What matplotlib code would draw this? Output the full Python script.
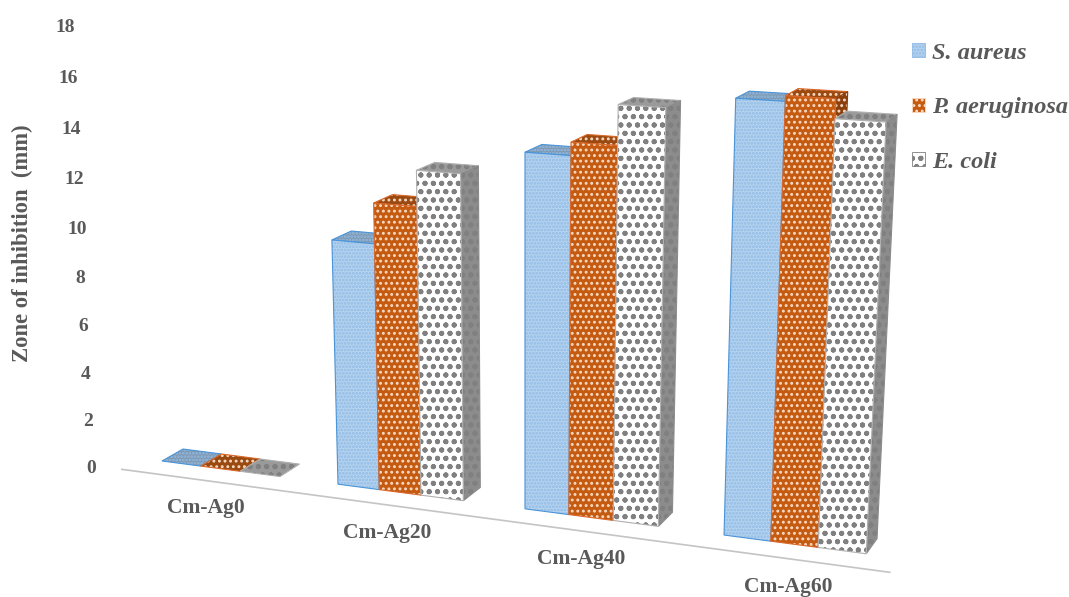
import matplotlib
matplotlib.use('Agg')
import matplotlib.pyplot as plt
from matplotlib.patches import Polygon, Patch

categories = ['Cm-Ag0', 'Cm-Ag20', 'Cm-Ag40', 'Cm-Ag60']
series_names = ['S. aureus', 'P. aeruginosa', 'E. coli']
s_aureus = [0, 10.0, 14.0, 16.5]
p_aeruginosa = [0, 11.6, 14.5, 16.7]
e_coli = [0, 13.0, 16.0, 16.0]
y_ticks = [0, 2, 4, 6, 8, 10, 12, 14, 16, 18]

GROUP_W = 0.677
CAM_Q = 0.00306


# perspective projection of (category pos, value, depth) to picture pixels
def project(t, v, d):
    w = 1 - 0.0294 * t - CAM_Q * v + 0.0164 * d
    x = (162 + 166.06 * t - 525 * CAM_Q * v + 24 * d) / w
    y = (461 + 8.95 * t - 24.44 * v - 4.6 * d) / w
    return x, y


def face(points, fill, hatch_col, hatch, edge, zorder):
    pts = [project(*p) for p in points]
    ax.add_patch(Polygon(pts, closed=True, facecolor=fill, edgecolor=hatch_col,
                         hatch=hatch, lw=0, zorder=zorder))
    ax.add_patch(Polygon(pts, closed=True, fill=False, edgecolor=edge, lw=0.8, zorder=zorder))


plt.rcParams['font.family'] = ['Liberation Serif', 'DejaVu Serif']
plt.rcParams['hatch.linewidth'] = 1.3

fig = plt.figure(figsize=(10.69, 5.97), dpi=100)
ax = fig.add_axes([0, 0, 1, 1])
ax.set_xlim(0, 1069)
ax.set_ylim(597, 0)
ax.axis('off')

styles = [
    # front, side, top, hatch colour, hatch, edge
    dict(front='#b5d2ee', side='#8fa9c4', top='#8199b0', hc='#8fbbe6', hatch='.....', edge='#4a94d8'),
    dict(front='#c55a11', side='#8a3f0c', top='#9a4a10', hc='#f8dcc6', hatch='...', edge='#d9682a'),
    dict(front='#ffffff', side='#8c8c8c', top='#9a9a9a', hc='#808080', hatch='oo..', edge='#b0b0b0'),
]
values = [s_aureus, p_aeruginosa, e_coli]

# floor line
x0, y0 = project(-0.12, 0, -0.9)
x1, y1 = project(3.83, 0, -0.9)
ax.plot([x0, x1], [y0, y1], color='#c4c4c4', lw=1.2, zorder=1)

z = 2
for i in range(len(categories)):
    for j in range(3):
        st = styles[j]
        a = i + GROUP_W * j / 3
        b = i + GROUP_W * (j + 1) / 3
        v = values[j][i]
        # top
        face([(a, v, 0), (b, v, 0), (b, v, 1), (a, v, 1)], st['top'], st['hc'], st['hatch'], st['edge'], z)
        if v > 0:
            # right side, then front
            face([(b, 0, 0), (b, 0, 1), (b, v, 1), (b, v, 0)], st['side'], st['hc'], st['hatch'], st['side'], z)
            face([(a, 0, 0), (b, 0, 0), (b, v, 0), (a, v, 0)], st['front'], st['hc'], st['hatch'], st['edge'], z)
        z += 1

text_col = '#595959'
for v in y_ticks:
    x, y = project(-0.289, v, -0.9)
    ax.text(x - 2, y + 3, str(v), ha='center', va='center', fontsize=14,
            fontweight='bold', color=text_col)

for i, name in enumerate(categories):
    x, y = project(i + GROUP_W / 2, 0, -1)
    ax.text(x + 6, y + 27, name, ha='center', va='center', fontsize=15.5,
            fontweight='bold', color=text_col)

ax.text(22, 243, 'Zone of inhibition  (mm)', rotation=90, ha='center', va='center',
        fontsize=16.3, fontweight='bold', color=text_col)

handles = [Patch(facecolor=s['front'], edgecolor=s['hc'], hatch=s['hatch'], lw=0.6) for s in styles]
leg = ax.legend(handles, series_names, loc='upper left', bbox_to_anchor=(912 / 1069, 1 - 43 / 597),
                frameon=False, handlelength=0.52, handleheight=0.52, handletextpad=0.3,
                labelspacing=1.37, borderpad=0, borderaxespad=0,
                prop={'family': 'Liberation Serif', 'style': 'italic', 'weight': 'bold', 'size': 17.5})
for t in leg.get_texts():
    t.set_color(text_col)

fig.savefig('out.png', dpi=100)
